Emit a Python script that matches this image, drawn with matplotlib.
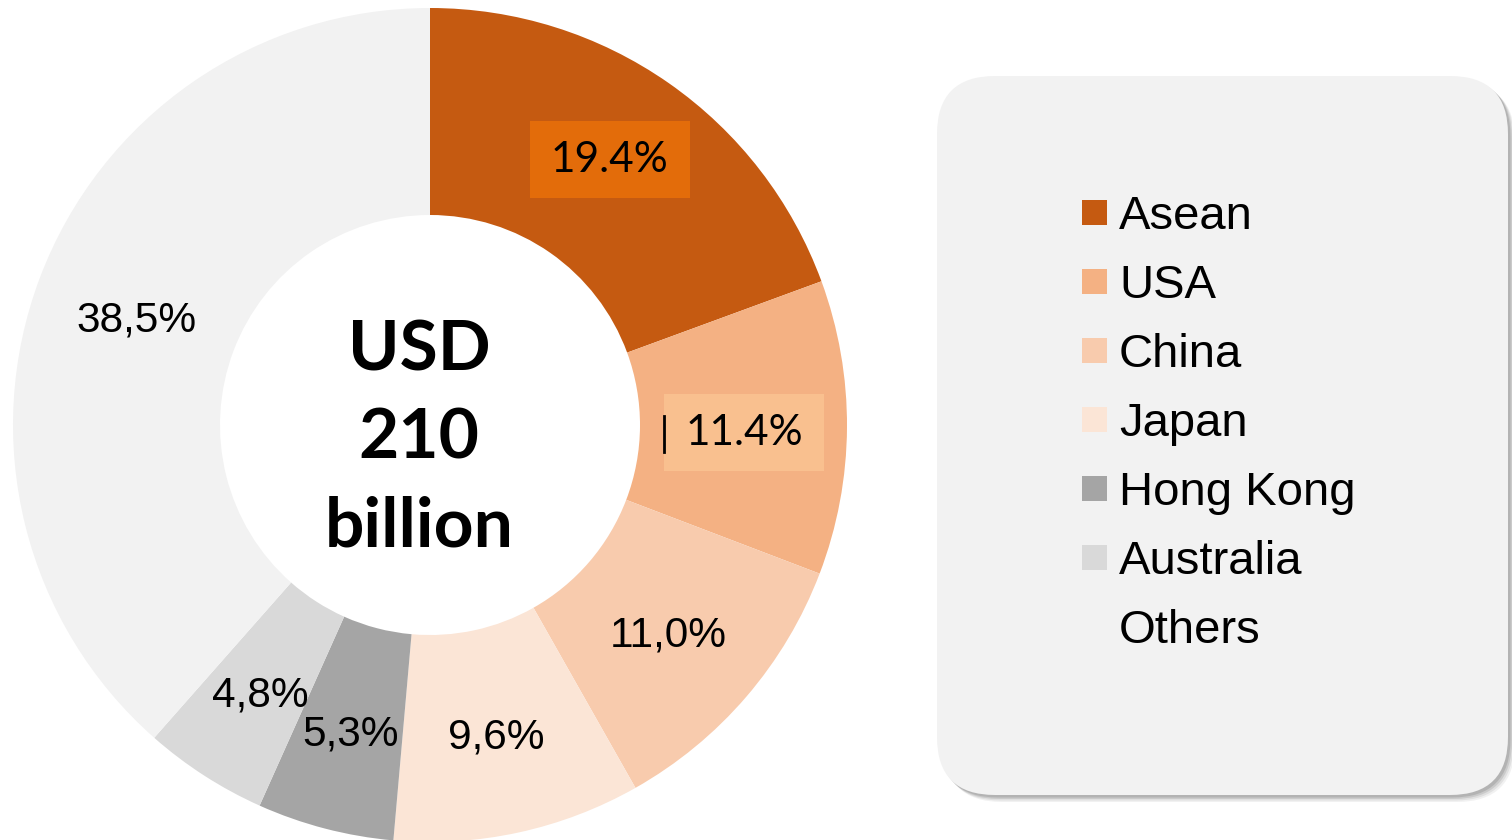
import numpy as np
import matplotlib.pyplot as plt
from matplotlib.patches import FancyBboxPatch, Rectangle

# Data
regions = ['Asean', 'USA', 'China', 'Japan', 'Hong Kong', 'Australia', 'Others']
shares = [19.4, 11.4, 11.0, 9.6, 5.3, 4.8, 38.5]
share_labels = ['19.4%', '11.4%', '11,0%', '9,6%', '5,3%', '4,8%', '38,5%']
colors = ['#c55a11', '#f4b183', '#f8cbad', '#fbe5d6', '#a5a5a5', '#d9d9d9', '#f2f2f2']
center_lines = ['USD', '210', 'billion']

W, H = 1512, 840
fig = plt.figure(figsize=(W / 100, H / 100), dpi=100)
ax = fig.add_axes([0, 0, 1, 1])

cx, cy = 430, H - 425
r_out, r_in = 417, 210

wedges, _ = ax.pie(shares, colors=colors, radius=r_out, center=(cx, cy),
                   startangle=90, counterclock=False,
                   wedgeprops=dict(width=r_out - r_in, linewidth=0))

ax.set_xlim(0, W)
ax.set_ylim(0, H)
ax.set_aspect('equal')
ax.axis('off')

# percentage labels in the middle of the ring
r_lab = 314
box_colors = {0: '#e36c0a', 1: '#f9c08f'}
nudge = {0: 8}  # asean label sits a bit higher in the original
for i, w in enumerate(wedges):
    ang = np.deg2rad((w.theta1 + w.theta2) / 2)
    x = cx + r_lab * np.cos(ang)
    y = cy + r_lab * np.sin(ang) + nudge.get(i, -6)
    if i in box_colors:
        ax.add_patch(Rectangle((x - 80, y - 38.5), 160, 77, color=box_colors[i], lw=0, zorder=3))
        ax.text(x, y, share_labels[i], ha='center', va='center', fontsize=30.5,
                family='Lato', color='black', zorder=4)
    else:
        ax.text(x, y, share_labels[i], ha='center', va='center', fontsize=30.5,
                family='Liberation Sans', color='black', zorder=4)

# little cursor mark left of the USA label
ax.plot([664, 664], [H - 416, H - 452], color='black', lw=2, zorder=5)

# centre text
for k, line in enumerate(center_lines):
    ax.text(419, H - (351 + 88 * k), line, ha='center', va='center', fontsize=50,
            family='Lato', weight='bold', color='black')

# legend box with shadow
bx0, by0, bx1, by1 = 937, H - 795, 1508, H - 76
for k, a in enumerate([0.10, 0.15, 0.22, 0.30]):
    off = 7 - k * 1.5
    ax.add_patch(FancyBboxPatch((bx0 + off, by0 - off), bx1 - bx0, by1 - by0,
                                boxstyle='round,pad=0,rounding_size=58',
                                fc='#7f7f7f', ec='none', alpha=a, zorder=1))
ax.add_patch(FancyBboxPatch((bx0, by0), bx1 - bx0, by1 - by0,
                            boxstyle='round,pad=0,rounding_size=58',
                            fc='#f2f2f2', ec='none', zorder=2))

for k, (name, c) in enumerate(zip(regions, colors)):
    yc = H - (212 + 69 * k)
    ax.add_patch(Rectangle((1082, yc - 12.5), 25, 25, color=c, lw=0, zorder=3))
    ax.text(1119, yc - 17, name, ha='left', va='baseline', fontsize=34,
            family='Liberation Sans', color='black', zorder=4)

fig.savefig('out.png', dpi=100, facecolor='white')
